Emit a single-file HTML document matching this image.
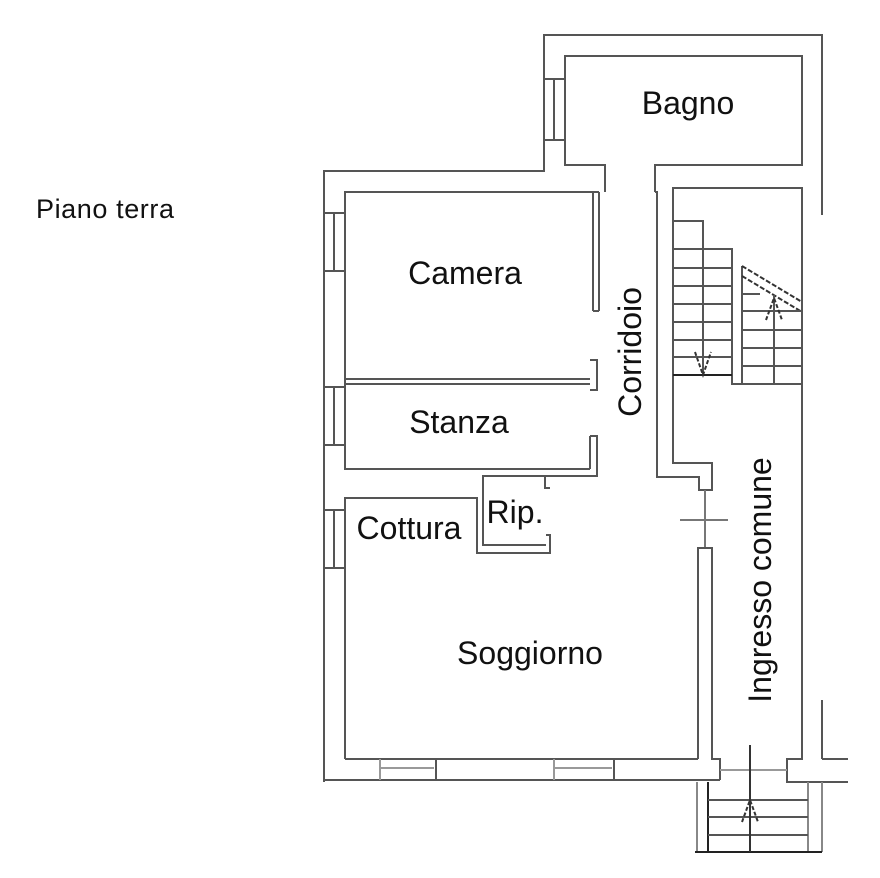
<!DOCTYPE html>
<html><head><meta charset="utf-8"><style>
html,body{margin:0;padding:0;background:#fff;}
svg{display:block;}
text{font-family:"Liberation Sans",Arial,sans-serif;fill:#111;}
</style></head><body>
<svg width="880" height="878" viewBox="0 0 880 878" xmlns="http://www.w3.org/2000/svg">
<g fill="none" stroke="#555" stroke-width="2">
<polyline points="324,782 324,171 544,171 544,35 822,35 822,215"/>
<polyline points="605,192 605,165 565,165 565,56 802,56 802,165 655,165 655,192"/>
<line x1="544" y1="79" x2="565" y2="79"/><line x1="544" y1="140" x2="565" y2="140"/><line x1="554" y1="79" x2="554" y2="140"/>
<polyline points="599,192 345,192 345,384 590,384"/>
<line x1="593" y1="192" x2="593" y2="311"/><line x1="599" y1="192" x2="599" y2="311"/><line x1="593" y1="311" x2="599" y2="311"/>
<line x1="324" y1="213" x2="345" y2="213"/><line x1="324" y1="271" x2="345" y2="271"/><line x1="334" y1="213" x2="334" y2="271"/>
<polyline points="590,360 597,360 597,390 590,390"/>
<polyline points="590,379 345,379 345,469 590,469"/>
<line x1="324" y1="387" x2="345" y2="387"/><line x1="324" y1="445" x2="345" y2="445"/><line x1="334" y1="387" x2="334" y2="445"/>
<polyline points="590,436 597,436 597,476 483,476 483,545 546,545"/>
<line x1="590" y1="436" x2="590" y2="469"/>
<polyline points="545,476 545,488 550,488"/>
<polyline points="546,535 550,535 550,553 477,553 477,498 345,498 345,759"/>
<line x1="324" y1="510" x2="345" y2="510"/><line x1="324" y1="568" x2="345" y2="568"/><line x1="334" y1="510" x2="334" y2="568"/>
<polyline points="655,192 657,192 657,477 699,477 699,490 712,490 712,463 673,463 673,188 802,188 802,759 787,759 787,782 848,782"/>
<line x1="680" y1="520" x2="728" y2="520" stroke="#777"/>
<line x1="705" y1="490" x2="705" y2="548" stroke="#777"/>
<polyline points="698,759 698,548 712,548 712,759 720,759 720,780"/>
<polyline points="345,759 698,759"/>
<polyline points="324,780 720,780"/>
<line x1="380" y1="768" x2="434" y2="768" stroke="#999"/>
<line x1="554" y1="768" x2="612" y2="768" stroke="#999"/>
<line x1="380" y1="759" x2="380" y2="780" stroke="#999"/>
<line x1="436" y1="759" x2="436" y2="780"/>
<line x1="554" y1="759" x2="554" y2="780" stroke="#999"/>
<line x1="614" y1="759" x2="614" y2="780"/>
<line x1="720" y1="770" x2="787" y2="770" stroke="#999"/>
<line x1="822" y1="700" x2="822" y2="759"/><line x1="822" y1="759" x2="848" y2="759"/>
<line x1="697" y1="782" x2="697" y2="852" stroke="#888"/>
<line x1="708" y1="782" x2="708" y2="852" stroke="#222"/>
<line x1="808" y1="782" x2="808" y2="852" stroke="#888"/>
<line x1="822" y1="782" x2="822" y2="852" stroke="#888"/>
<line x1="695" y1="852" x2="822" y2="852" stroke="#222"/>
<line x1="708" y1="800" x2="808" y2="800"/><line x1="708" y1="817" x2="808" y2="817"/><line x1="708" y1="835" x2="808" y2="835"/>
<line x1="750" y1="745" x2="750" y2="852" stroke="#333"/>
<polyline points="742,822 750,800 758,822" stroke="#333" stroke-dasharray="4,2"/>
<polyline points="673,221 703,221 703,375"/>
<polyline points="673,249 732,249 732,384 802,384"/>
<line x1="673" y1="268" x2="732" y2="268"/><line x1="673" y1="286" x2="732" y2="286"/>
<line x1="673" y1="304" x2="732" y2="304"/><line x1="673" y1="322" x2="732" y2="322"/>
<line x1="673" y1="340" x2="732" y2="340"/><line x1="673" y1="357" x2="732" y2="357"/>
<line x1="673" y1="375" x2="732" y2="375" stroke="#222"/>
<polyline points="695,352 703,375 711,352" stroke="#333" stroke-dasharray="4,2"/>
<line x1="742" y1="266" x2="742" y2="384"/>
<line x1="742" y1="266" x2="802" y2="302" stroke="#333" stroke-dasharray="5,2"/>
<line x1="742" y1="276" x2="802" y2="312" stroke="#333" stroke-dasharray="5,2"/>
<line x1="774" y1="295" x2="774" y2="384"/>
<line x1="742" y1="294" x2="760" y2="294"/>
<line x1="742" y1="311" x2="802" y2="311"/><line x1="742" y1="330" x2="802" y2="330"/>
<line x1="742" y1="348" x2="802" y2="348"/><line x1="742" y1="366" x2="802" y2="366"/>
<polyline points="766,320 774,298 782,320" stroke="#333" stroke-dasharray="4,2"/>
</g>
<text x="36" y="218" font-size="27" textLength="138">Piano terra</text>
<text x="688" y="114" font-size="32" text-anchor="middle">Bagno</text>
<text x="465" y="284" font-size="32" text-anchor="middle">Camera</text>
<text x="459" y="433" font-size="32" text-anchor="middle">Stanza</text>
<text x="409" y="539" font-size="32" text-anchor="middle">Cottura</text>
<text x="515" y="523" font-size="32" text-anchor="middle">Rip.</text>
<text x="530" y="664" font-size="32" text-anchor="middle">Soggiorno</text>
<text transform="translate(641,352) rotate(-90)" font-size="32" text-anchor="middle">Corridoio</text>
<text transform="translate(771,580) rotate(-90)" font-size="32" text-anchor="middle">Ingresso comune</text>
</svg>
</body></html>
